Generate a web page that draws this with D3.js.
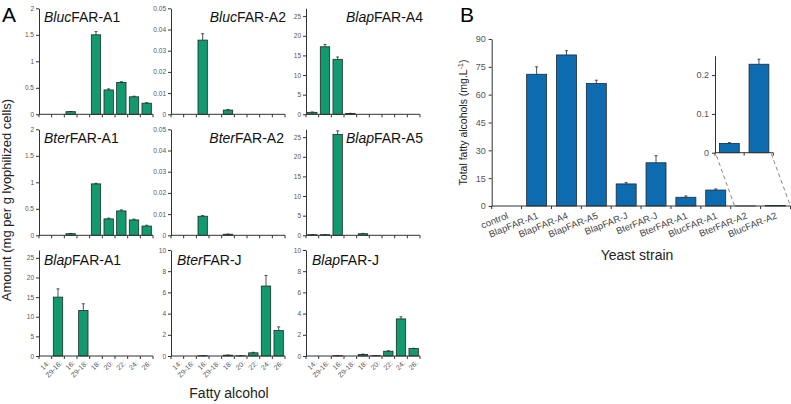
<!DOCTYPE html>
<html><head><meta charset="utf-8">
<script src="https://cdn.jsdelivr.net/npm/d3@7"></script>
<style>body{margin:0;background:#fff}svg{display:block;font-family:Arial,"Liberation Sans",sans-serif}</style>
</head><body><svg id="c" width="791" height="404"></svg>
<script>
// ---------- Panel A data ----------
const alcohols = ["14:", "Z9-16:", "16:", "Z9-18:", "18:", "20:", "22:", "24:", "26:"];
const panelNames = [
  ["Bluc","FAR-A1"],["Bluc","FAR-A2"],["Blap","FAR-A4"],
  ["Bter","FAR-A1"],["Bter","FAR-A2"],["Blap","FAR-A5"],
  ["Blap","FAR-A1"],["Bter","FAR-J"],["Blap","FAR-J"]
];
const blucA1 = [0, 0, 0.05, 0, 1.50, 0.46, 0.60, 0.33, 0.21];
const blucA1Err = [0, 0, 0.004, 0, 0.06, 0.02, 0.015, 0.012, 0.01];
const blucA2 = [0, 0, 0.035, 0, 0.002, 0, 0, 0, 0];
const blucA2Err = [0, 0, 0.003, 0, 0.0003, 0, 0, 0, 0];
const blapA4 = [0.5, 17.2, 14.0, 0.2, 0, 0, 0, 0, 0];
const blapA4Err = [0.1, 0.6, 0.6, 0.05, 0, 0, 0, 0, 0];
const bterA1 = [0, 0, 0.03, 0, 0.97, 0.31, 0.46, 0.29, 0.175];
const bterA1Err = [0, 0, 0.004, 0, 0.012, 0.015, 0.02, 0.015, 0.015];
const bterA2 = [0, 0, 0.009, 0, 0.0005, 0, 0, 0, 0];
const bterA2Err = [0, 0, 0.0003, 0, 0.0001, 0, 0, 0, 0];
const blapA5 = [0.15, 0.15, 25.7, 0, 0.4, 0, 0, 0, 0];
const blapA5Err = [0.02, 0.02, 0.9, 0, 0.08, 0, 0, 0, 0];
const blapA1 = [0, 15.0, 0, 11.6, 0, 0, 0, 0, 0];
const blapA1Err = [0, 2.1, 0, 1.7, 0, 0, 0, 0, 0];
const bterJ = [0, 0, 0.03, 0, 0.08, 0.02, 0.3, 6.6, 2.4];
const bterJErr = [0, 0, 0.005, 0, 0.01, 0.005, 0.05, 1.0, 0.35];
const blapJ = [0, 0, 0.03, 0, 0.15, 0.03, 0.45, 3.5, 0.7];
const blapJErr = [0, 0, 0.005, 0, 0.03, 0.005, 0.05, 0.2, 0.03];
const panelValues = [blucA1, blucA2, blapA4, bterA1, bterA2, blapA5, blapA1, bterJ, blapJ];
const panelErrors = [blucA1Err, blucA2Err, blapA4Err, bterA1Err, bterA2Err, blapA5Err, blapA1Err, bterJErr, blapJErr];
const panelMax = [2, 0.05, 27, 2, 0.05, 27, 27, 10, 10];
const panelTicks = [
  [0,0.5,1,1.5,2],[0,0.01,0.02,0.03,0.04,0.05],[0,5,10,15,20,25],
  [0,0.5,1,1.5,2],[0,0.01,0.02,0.03,0.04,0.05],[0,5,10,15,20,25],
  [0,5,10,15,20,25],[0,2,4,6,8,10],[0,2,4,6,8,10]
];

// ---------- Panel B data ----------
const strains = ["control","BlapFAR-A1","BlapFAR-A4","BlapFAR-A5","BlapFAR-J","BterFAR-J","BterFAR-A1","BlucFAR-A1","BterFAR-A2","BlucFAR-A2"];
const totals = [0, 71.0, 81.4, 66.0, 11.9, 23.3, 4.7, 8.6, 0.024, 0.228];
const totalsErr = [0, 4.0, 2.3, 1.8, 0.7, 3.8, 0.7, 0.6, 0.002, 0.013];
const totalTicks = [0, 15, 30, 45, 60, 75, 90];
const insetStrains = ["BterFAR-A2","BlucFAR-A2"];
const insetTotals = [0.024, 0.228];
const insetErr = [0.002, 0.013];
const insetTicks = [0, 0.1, 0.2];

// ---------- drawing ----------
const svg = d3.select("#c");
const green = "#13996f", blue = "#0d6cb0", outline = "#1d2b26", axisCol = "#333";

const colX = [39, 171, 306], plotW = 114;
const rowY = [114.3, 235.3, 356], plotH = 106;
const titleSpec = [
  {a:"start",x:44,y:22},{a:"end",x:286,y:22},{a:"end",x:423,y:22},
  {a:"start",x:44,y:143},{a:"end",x:284,y:143},{a:"end",x:423,y:143},
  {a:"start",x:44,y:265},{a:"start",x:177,y:265},{a:"start",x:312,y:265}
];

panelValues.forEach((vals, i) => {
  const r = Math.floor(i/3), c = i%3;
  const g = svg.append("g").attr("transform", `translate(${colX[c]},${rowY[r]-plotH})`);
  const x = d3.scaleBand().domain(alcohols).range([0, plotW]).paddingInner(0.26).paddingOuter(0.13);
  const y = d3.scaleLinear().domain([0, panelMax[i]]).range([plotH, 0]);
  g.selectAll("rect").data(vals).join("rect")
    .attr("x", (d,k)=>x(alcohols[k])).attr("width", x.bandwidth())
    .attr("y", d=>y(d)).attr("height", d=>plotH - y(d))
    .attr("fill", green).attr("stroke", outline).attr("stroke-width", 0.8);
  const errs = panelErrors[i];
  vals.forEach((d,k) => {
    if (!errs[k] || d <= 0) return;
    const cx = x(alcohols[k]) + x.bandwidth()/2;
    g.append("line").attr("x1",cx).attr("x2",cx).attr("y1",y(d)).attr("y2",y(d+errs[k])).attr("stroke",outline).attr("stroke-width",0.8);
    g.append("line").attr("x1",cx-1.5).attr("x2",cx+1.5).attr("y1",y(d+errs[k])).attr("y2",y(d+errs[k])).attr("stroke",outline).attr("stroke-width",0.8);
  });
  const ya = g.append("g").call(d3.axisLeft(y).tickValues(panelTicks[i]).tickSize(3).tickSizeOuter(0).tickFormat(d3.format("~g")));
  ya.select(".domain").attr("stroke", axisCol);
  ya.selectAll(".tick line").attr("stroke", axisCol);
  ya.selectAll("text").attr("font-size", 6.5).attr("fill", "#555").attr("x", -5);
  const xa = g.append("g").attr("transform", `translate(0,${plotH})`);
  xa.append("line").attr("x1",0).attr("x2",plotW).attr("y1",0).attr("y2",0).attr("stroke",axisCol);
  const bounds = d3.range(alcohols.length + 1).map(k => k*plotW/alcohols.length);
  xa.selectAll(".bt").data(bounds).join("line").attr("class","bt")
    .attr("x1",d=>d).attr("x2",d=>d).attr("y1",0).attr("y2",3).attr("stroke",axisCol);
  if (r === 2) {
    xa.selectAll(".lab").data(alcohols).join("text").attr("class","lab")
      .attr("transform", (d,k) => `translate(${x(d)+x.bandwidth()/2+3},6) rotate(-45)`)
      .attr("text-anchor","end").attr("font-size",7).attr("fill","#555").attr("dy","0.35em")
      .text(d=>d);
  }
  const t = titleSpec[i];
  const tx = svg.append("text").attr("x", t.x).attr("y", t.y).attr("text-anchor", t.a).attr("font-size", 14).attr("fill", "#111");
  tx.append("tspan").attr("font-style","italic").text(panelNames[i][0]);
  tx.append("tspan").text(panelNames[i][1]);
});

svg.append("text").attr("x", 2).attr("y", 22).attr("font-size", 21).text("A");
svg.append("text").attr("transform","translate(11,200) rotate(-90)").attr("text-anchor","middle").attr("font-size",13).attr("fill","#222").text("Amount (mg per g lyophilized cells)");
svg.append("text").attr("x", 229).attr("y", 398).attr("text-anchor","middle").attr("font-size",14).attr("fill","#222").text("Fatty alcohol");

// ---------- Panel B ----------
const bx0 = 491.7, bx1 = 790.5, by0 = 206, by1 = 39;
const gB = svg.append("g").attr("transform", `translate(${bx0},${by1})`);
const bw = bx1 - bx0, bh = by0 - by1;
const xB = d3.scaleBand().domain(strains).range([0, bw]).paddingInner(0.33).paddingOuter(0.17);
const yB = d3.scaleLinear().domain([0, 90]).range([bh, 0]);
gB.selectAll("rect").data(totals).join("rect")
  .attr("x",(d,k)=>xB(strains[k])).attr("width",xB.bandwidth())
  .attr("y",d=>yB(d)).attr("height",d=>bh-yB(d))
  .attr("fill",blue).attr("stroke","#1b2a3a").attr("stroke-width",0.8);
totals.forEach((d,k)=>{
  if (!totalsErr[k] || totalsErr[k] < 0.1) return;
  const cx = xB(strains[k]) + xB.bandwidth()/2;
  gB.append("line").attr("x1",cx).attr("x2",cx).attr("y1",yB(d)).attr("y2",yB(d+totalsErr[k])).attr("stroke","#222").attr("stroke-width",0.8);
  gB.append("line").attr("x1",cx-1.5).attr("x2",cx+1.5).attr("y1",yB(d+totalsErr[k])).attr("y2",yB(d+totalsErr[k])).attr("stroke","#222").attr("stroke-width",0.8);
});
const yaB = gB.append("g").call(d3.axisLeft(yB).tickValues(totalTicks).tickSize(3).tickSizeOuter(0));
yaB.select(".domain").attr("stroke",axisCol);
yaB.selectAll(".tick line").attr("stroke",axisCol);
yaB.selectAll("text").attr("font-size",9).attr("fill","#555").attr("x",-6);
const xaB = gB.append("g").attr("transform",`translate(0,${bh})`);
xaB.append("line").attr("x1",0).attr("x2",bw).attr("stroke",axisCol);
xaB.selectAll(".bt").data(d3.range(strains.length+1).map(k=>k*bw/strains.length)).join("line").attr("class","bt")
  .attr("x1",d=>d).attr("x2",d=>d).attr("y1",0).attr("y2",3).attr("stroke",axisCol);
xaB.selectAll(".lab").data(strains).join("text").attr("class","lab")
  .attr("transform",(d,k)=>`translate(${xB(d)+xB.bandwidth()/2+1},9) rotate(-22)`)
  .attr("text-anchor","end").attr("font-size",9.5).attr("fill","#444").attr("dy","0.35em").text(d=>d);
svg.append("text").attr("x",460).attr("y",22).attr("font-size",21).text("B");
const yt = svg.append("text").attr("transform",`translate(467,${(by0+by1)/2}) rotate(-90)`).attr("text-anchor","middle").attr("font-size",10.5).attr("fill","#222");
yt.append("tspan").text("Total fatty alcohols (mg.L");
yt.append("tspan").attr("dy",-4).attr("font-size",7).text("-1");
yt.append("tspan").attr("dy",4).text(")");
svg.append("text").attr("x",637).attr("y",260).attr("text-anchor","middle").attr("font-size",14).attr("fill","#222").text("Yeast strain");

// inset
const ix0 = 715, ix1 = 773.3, iy0 = 152.7, iy1 = 55.7;
const gI = svg.append("g").attr("transform",`translate(${ix0},${iy1})`);
const iw = ix1-ix0, ih = iy0-iy1;
const xI = d3.scaleBand().domain(insetStrains).range([0,iw]).paddingInner(0.33).paddingOuter(0.15);
const yI = d3.scaleLinear().domain([0,0.25]).range([ih,0]);
gI.selectAll("rect").data(insetTotals).join("rect")
  .attr("x",(d,k)=>xI(insetStrains[k])).attr("width",xI.bandwidth())
  .attr("y",d=>yI(d)).attr("height",d=>ih-yI(d))
  .attr("fill",blue).attr("stroke","#1b2a3a").attr("stroke-width",0.8);
insetTotals.forEach((d,k)=>{
  const cx = xI(insetStrains[k]) + xI.bandwidth()/2;
  gI.append("line").attr("x1",cx).attr("x2",cx).attr("y1",yI(d)).attr("y2",yI(d+insetErr[k])).attr("stroke","#222").attr("stroke-width",0.8);
  gI.append("line").attr("x1",cx-1.5).attr("x2",cx+1.5).attr("y1",yI(d+insetErr[k])).attr("y2",yI(d+insetErr[k])).attr("stroke","#222").attr("stroke-width",0.8);
});
const yaI = gI.append("g").call(d3.axisLeft(yI).tickValues(insetTicks).tickSize(3).tickSizeOuter(0).tickFormat(d3.format("~g")));
yaI.select(".domain").attr("stroke",axisCol);
yaI.selectAll(".tick line").attr("stroke",axisCol);
yaI.selectAll("text").attr("font-size",9).attr("fill","#555").attr("x",-6);
const xaI = gI.append("g").attr("transform",`translate(0,${ih})`);
xaI.append("line").attr("x1",0).attr("x2",iw).attr("stroke",axisCol);
xaI.selectAll(".bt").data([0, iw/2, iw]).join("line").attr("class","bt")
  .attr("x1",d=>d).attr("x2",d=>d).attr("y1",0).attr("y2",3).attr("stroke",axisCol);
const leftBase = bx0 + xB(strains[8]) - 1, rightBase = bx0 + xB(strains[9]) + xB.bandwidth() + 5;
svg.append("line").attr("x1",ix0+1.5).attr("y1",iy0+3).attr("x2",leftBase).attr("y2",by0).attr("stroke","#888").attr("stroke-dasharray","4,3");
svg.append("line").attr("x1",ix1-2).attr("y1",iy0+1).attr("x2",rightBase).attr("y2",by0).attr("stroke","#888").attr("stroke-dasharray","4,3");
</script></body></html>
